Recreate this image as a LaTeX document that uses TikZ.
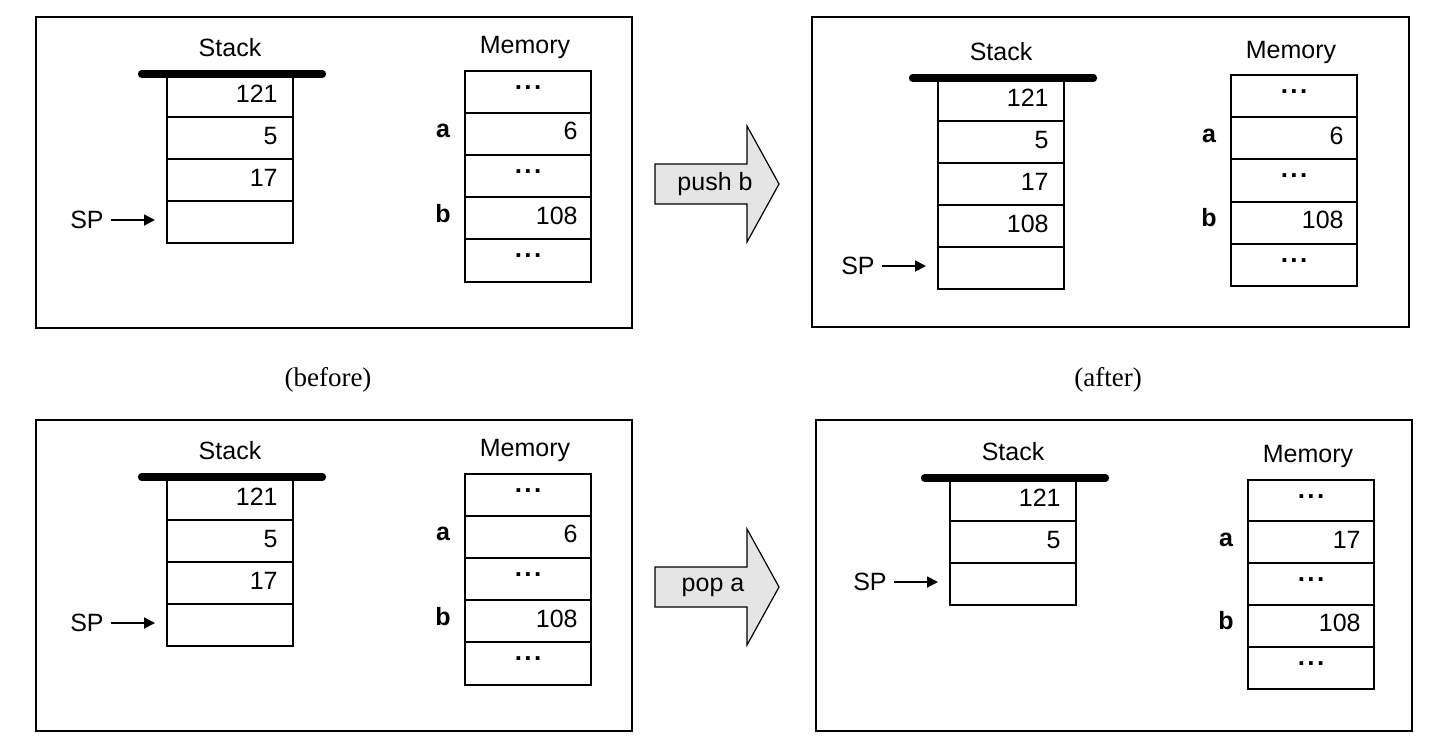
\documentclass[tikz,border=0pt]{standalone}
\usepackage{fontspec}
\setmainfont{Liberation Sans}
\newfontfamily\capserif{Liberation Serif}
\usetikzlibrary{arrows.meta,calc}
\tikzset{
  panel/.style={draw, line width=1pt},
  cellbox/.style={draw, line width=1pt, minimum width=63pt, minimum height=21pt, inner sep=0pt, outer sep=0pt},
  val/.style={inner sep=0pt, font=\fontsize{12.5}{15}\selectfont},
  lab/.style={inner sep=0pt, font=\fontsize{12.5}{15}\selectfont},
  varlab/.style={inner sep=0pt, font=\fontsize{12.5}{15}\selectfont\bfseries},
  dotlab/.style={inner sep=0pt, font=\fontsize{13}{15}\selectfont\bfseries},
  caplab/.style={inner sep=0pt, font=\fontsize{13.5}{15}\selectfont\capserif},
  topbar/.style={line width=3.6pt, line cap=round},
  sparrow/.style={line width=0.9pt, -{Triangle[length=5.5pt,width=5.5pt]}, shorten <=3.5pt, shorten >=6pt},
  bigarrow/.style={draw, line width=0.6pt, fill=black!10, line join=miter},
}
\newcommand\DrawStack[5]{% #1 prefix, #2 xleft, #3 ytop, #4 values, #5 SP row
  \foreach \v [count=\i] in {#4} {
    \node[cellbox, anchor=north west] (#1c\i) at (#2, {#3+42*(\i-1)}) {};
    \node[val, anchor=base east] (#1v\i) at ($(#1c\i.east)+(-15,6)$) {\v};
  }
  \draw[topbar] (#2-25.5, #3-1) -- (#2+155.5, #3-1);
  \node[lab] (#1st) at ($(#1c1.north)+(0,-27)$) {Stack};
  \node[lab, anchor=east] (#1sp) at ($(#1c#5.west)+(-63,-2)$) {SP};
  \draw[sparrow] (#1sp.east) -- (#1sp.east -| #1c#5.west);
}
\newcommand\DrawMemory[5]{% #1 prefix, #2 xleft, #3 ytop, #4 step, #5 value of a
  \foreach \i in {1,...,5} {
    \node[cellbox, minimum height=#4*0.5pt, anchor=north west] (#1m\i) at (#2, {#3+#4*(\i-1)}) {};
  }
  \foreach \i in {1,3,5} {
    \node[dotlab, anchor=base] (#1d\i) at ($(#1m\i.north)+(0,18.5)$) {.\hspace{1.2pt}.\hspace{1.2pt}.};
  }
  \node[val, anchor=base east] (#1va) at ($(#1m2.east)+(-13,6)$) {#5};
  \node[val, anchor=base east] (#1vb) at ($(#1m4.east)+(-13,6)$) {108};
  \node[varlab, anchor=base] (#1a) at ($(#1m2.west)+(-22,4)$) {a};
  \node[varlab, anchor=base] (#1b) at ($(#1m4.west)+(-22,4)$) {b};
  \node[lab] (#1mt) at ($(#1m1.north)+(-3,-23)$) {Memory};
}
\begin{document}
\begin{tikzpicture}[x=0.5pt,y=-0.5pt]
  \fill[white] (0,0) rectangle (1443,741);
  \useasboundingbox (0,0) rectangle (1443,741);
  % panels
  \draw[panel] (36,17) rectangle (632,328);
  \draw[panel] (812,17) rectangle (1409,327);
  \draw[panel] (36,420) rectangle (632,731);
  \draw[panel] (816,420) rectangle (1412,731);
  % top-left (before push)
  \DrawStack{TL}{167}{75}{121,5,17,{}}{4}
  \DrawMemory{TL}{465}{70.5}{42.2}{6}
  % top-right (after push)
  \DrawStack{TR}{938}{79}{121,5,17,108,{}}{5}
  \DrawMemory{TR}{1231}{75}{42.2}{6}
  % bottom-left (before pop)
  \DrawStack{BL}{167}{478}{121,5,17,{}}{4}
  \DrawMemory{BL}{465}{473.5}{42.2}{6}
  % bottom-right (after pop)
  \DrawStack{BR}{950}{479}{121,5,{}}{3}
  \DrawMemory{BR}{1248}{479.5}{41.8}{17}
  % big arrows
  \draw[bigarrow] (655,164) -- (747,164) -- (747,126) -- (779,184) -- (747,242) -- (747,204) -- (655,204) -- cycle;
  \node[lab] (push) at (715,184) {push b};
  \draw[bigarrow] (655,567) -- (747,567) -- (747,529) -- (779,587) -- (747,645) -- (747,607) -- (655,607) -- cycle;
  \node[lab] (pop) at (713,587) {pop a};
  % captions
  \node[caplab] (before) at (328,380) {(before)};
  \node[caplab] (after) at (1108,380) {(after)};
\end{tikzpicture}
\end{document}
